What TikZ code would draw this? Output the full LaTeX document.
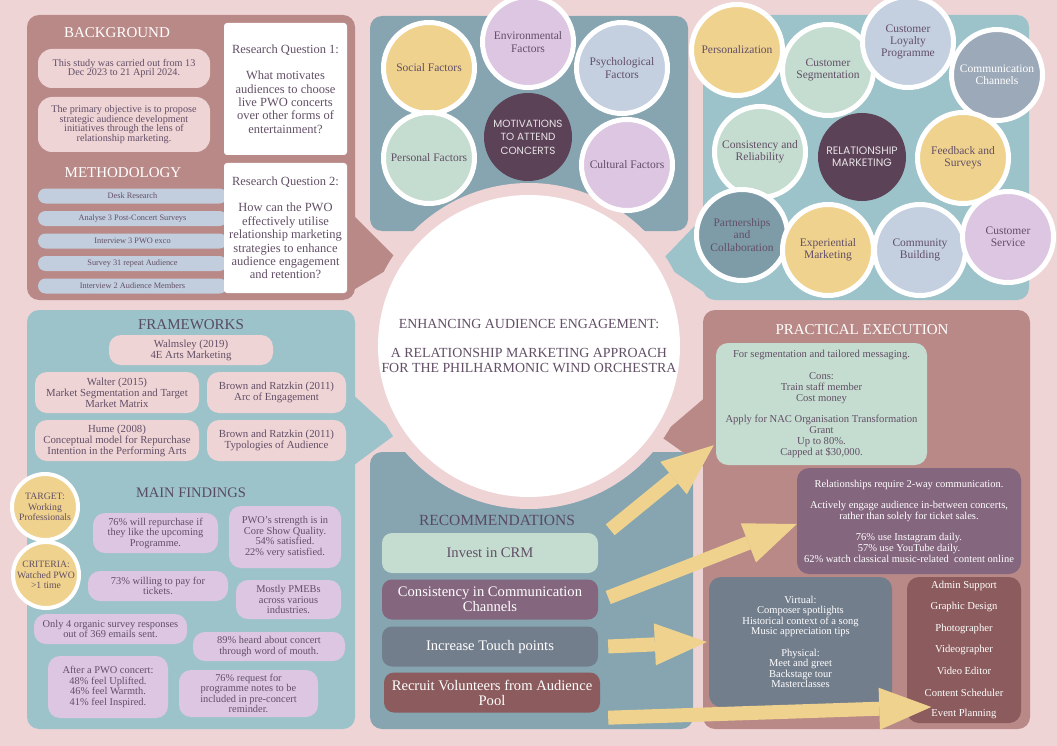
\documentclass[tikz,border=0pt]{standalone}
\usepackage{fontspec}
\setmainfont{Liberation Serif}
\newfontfamily\hubfont{Poppins}
\usetikzlibrary{matrix,arrows.meta}

\definecolor{bgpink}{HTML}{EFD4D6}
\definecolor{mauve}{HTML}{B98987}
\definecolor{tealL}{HTML}{9DC3CA}
\definecolor{tealD}{HTML}{86A5B0}
\definecolor{pillblue}{HTML}{C2CEDD}
\definecolor{sunny}{HTML}{EFD28E}
\definecolor{lilac}{HTML}{DCC6E2}
\definecolor{skyblue}{HTML}{C4D0E0}
\definecolor{mint}{HTML}{C5DCD0}
\definecolor{slateL}{HTML}{9CA9B9}
\definecolor{plum}{HTML}{5C4257}
\definecolor{steel}{HTML}{7E9CA8}
\definecolor{grape}{HTML}{84667E}
\definecolor{slateD}{HTML}{737E8D}
\definecolor{brick}{HTML}{8B5B5D}
\definecolor{inkc}{HTML}{624F66}
\definecolor{headc}{HTML}{584A63}

\begin{document}
\begin{tikzpicture}[x=1pt, y=-1pt, text=inkc,
    heading/.style={font=\fontsize{15}{16}\selectfont, text=white, inner sep=0pt},
    card/.style={rounded corners=12pt, align=center, inner sep=0pt, font=\fontsize{10.2}{9.8}\selectfont},
    qbox/.style={fill=white, rounded corners=3pt, align=center, inner sep=0pt, minimum width=123pt, font=\fontsize{12.5}{13.4}\selectfont},
    bubble/.style={circle, draw=white, line width=5pt, minimum size=91pt, inner sep=0pt, align=center, font=\fontsize{11.5}{12.4}\selectfont},
    core/.style={circle, fill=plum, minimum size=88pt, inner sep=0pt, align=center, text=white!85!plum, font=\hubfont\fontsize{10.4}{13.5}\selectfont},
    badge/.style={circle, fill=sunny, draw=white, line width=4pt, minimum size=66pt, inner sep=0pt, align=center, font=\fontsize{9.7}{10.5}\selectfont},
    refbox/.style={card, fill=bgpink, font=\fontsize{10.8}{11}\selectfont},
    fact/.style={card, fill=lilac, font=\fontsize{10.4}{10.5}\selectfont},
    btn/.style={card, rounded corners=10pt, minimum width=216pt, minimum height=40pt, font=\fontsize{14.6}{15}\selectfont},
    yarrow/.style={draw=sunny, line width=14pt, -{Triangle[length=52pt, width=42pt, line width=0pt]}}]

    \fill[bgpink, use as bounding box] (0,0) rectangle (1057,746);

    % panels
    \fill[mauve, rounded corners=12pt] (27,15) rectangle (355,300);
    \fill[mauve] (350,212) -- (400,262) -- (350,292) -- cycle;
    \fill[tealD, rounded corners=12pt] (370,16) rectangle (688,231);
    \fill[tealL, rounded corners=12pt] (703,15) rectangle (1029,300);
    \fill[tealL] (708,212) -- (660,262) -- (708,295) -- cycle;
    \fill[tealL, rounded corners=12pt] (27,310) rectangle (355,729);
    \fill[tealL] (350,392) -- (396,434) -- (350,468) -- cycle;
    \fill[tealD, rounded corners=12pt] (370,452) rectangle (693,729);
    \fill[mauve, rounded corners=12pt] (703,310) rectangle (1030,729);
    \fill[mauve] (708,395) -- (660,436) -- (708,470) -- cycle;

    \fill[bgpink] (529,346) circle (163);
    \node[circle, fill=white, minimum size=302pt] (hub) at (529,346) {};
    \node[align=center, font=\fontsize{13.9}{14.5}\selectfont] (title) at (hub) {ENHANCING AUDIENCE ENGAGEMENT:\\[15pt]A RELATIONSHIP MARKETING APPROACH\\FOR THE PHILHARMONIC WIND ORCHESTRA};

    % motivations
    \node[bubble, fill=sunny] (social) at (429,68) {Social Factors};
    \node[bubble, fill=lilac] (environ) at (528,42) {Environmental\\Factors};
    \node[bubble, fill=skyblue] (psycho) at (622,68) {Psychological\\Factors};
    \node[bubble, fill=mint] (personal) at (429,158) {Personal Factors};
    \node[bubble, fill=lilac] (cultural) at (627,165) {Cultural Factors};
    \node[core] (motiv) at (528,137) {MOTIVATIONS\\TO ATTEND\\CONCERTS};

    % relationship marketing
    \node[bubble, fill=sunny] (personalise) at (737,50) {Personalization};
    \node[bubble, fill=mint] (segment) at (828,70) {Customer\\Segmentation};
    \node[bubble, fill=skyblue] (loyalty) at (908,42) {Customer\\Loyalty\\Programme};
    \node[bubble, fill=slateL, text=white] (channels) at (997,75) {Communication\\Channels};
    \node[bubble, fill=mint] (reliable) at (760,152) {Consistency and\\Reliability};
    \node[core, font=\hubfont\fontsize{10.8}{12.3}\selectfont] (relmkt) at (862,157) {RELATIONSHIP\\MARKETING};
    \node[bubble, fill=sunny] (feedback) at (963,158) {Feedback and\\Surveys};
    \node[bubble, fill=steel] (partner) at (742,235) {Partnerships\\and\\Collaboration};
    \node[bubble, fill=sunny] (experience) at (828,250) {Experiential\\Marketing};
    \node[bubble, fill=skyblue] (community) at (920,250) {Community\\Building};
    \node[bubble, fill=lilac] (service) at (1008,237) {Customer\\Service};

    % background and methodology
    \node[heading] (bgtitle) at (117,33) {BACKGROUND};
    \node[card, fill=bgpink, minimum width=172pt, minimum height=39pt, rounded corners=14pt] (study) at (124,68.5) {This study was carried out from 13\\Dec 2023 to 21 April 2024.};
    \node[card, fill=bgpink, minimum width=172pt, minimum height=55pt, rounded corners=14pt] (aim) at (124,124.5) {The primary objective is to propose\\strategic audience development\\initiatives through the lens of\\relationship marketing.};
    \node[heading] (mtitle) at (123,173) {METHODOLOGY};
    \matrix[matrix of nodes, row sep=7.5pt, inner sep=0pt,
        nodes={fill=pillblue, rounded corners=7.5pt, minimum width=189pt, minimum height=15pt, inner sep=0pt, font=\fontsize{8.3}{9}\selectfont}] (method) at (132.5,241) {
    Desk Research \\
    Analyse 3 Post-Concert Surveys \\
    Interview 3 PWO exco \\
    Survey 31 repeat Audience \\
    Interview 2 Audience Members \\};
    \node[qbox, minimum height=132pt] (rq1) at (285.5,89) {Research Question 1:\\[13pt]What motivates\\audiences to choose\\live PWO concerts\\over other forms of\\entertainment?};
    \node[qbox, minimum height=130pt] (rq2) at (285.5,228) {Research Question 2:\\[13pt]How can the PWO\\effectively utilise\\relationship marketing\\strategies to enhance\\audience engagement\\and retention?};

    % frameworks
    \node[heading, text=headc] (fwtitle) at (191,325) {FRAMEWORKS};
    \node[refbox, minimum width=164pt, minimum height=30pt] (walmsley) at (191,350) {Walmsley (2019)\\4E Arts Marketing};
    \node[refbox, minimum width=164pt, minimum height=41pt] (walter) at (117,392.5) {Walter (2015)\\Market Segmentation and Target\\Market Matrix};
    \node[refbox, minimum width=139pt, minimum height=41pt] (arc) at (276.5,392.5) {Brown and Ratzkin (2011)\\Arc of Engagement};
    \node[refbox, minimum width=164pt, minimum height=41pt] (hume) at (117,440.5) {Hume (2008)\\Conceptual model for Repurchase\\Intention in the Performing Arts};
    \node[refbox, minimum width=139pt, minimum height=41pt] (typology) at (276.5,440.5) {Brown and Ratzkin (2011)\\Typologies of Audience};

    % main findings
    \node[heading, text=headc, font=\fontsize{14.5}{15}\selectfont] (mftitle) at (191,493) {MAIN FINDINGS};
    \node[badge] (target) at (45,507) {TARGET:\\Working\\Professionals};
    \node[badge] (criteria) at (46,575) {CRITERIA:\\Watched PWO\\>1 time};
    \node[fact, minimum width=125pt, minimum height=40pt] (repurchase) at (155.5,533) {76\% will repurchase if\\they like the upcoming\\Programme.};
    \node[fact, minimum width=112pt, minimum height=62pt] (quality) at (285,537) {PWO’s strength is in\\Core Show Quality.\\54\% satisfied.\\22\% very satisfied.};
    \node[fact, minimum width=140pt, minimum height=30pt] (pay) at (158,586) {73\% willing to pay for\\tickets.};
    \node[fact, minimum width=105pt, minimum height=39pt] (pmeb) at (288.5,599.5) {Mostly PMEBs\\across various\\industries.};
    \node[fact, minimum width=153pt, minimum height=30pt] (organic) at (110.5,629) {Only 4 organic survey responses\\out of 369 emails sent.};
    \node[fact, minimum width=152pt, minimum height=29pt] (mouth) at (269,646.5) {89\% heard about concert\\through word of mouth.};
    \node[fact, minimum width=120pt, minimum height=62pt] (feel) at (108,687) {After a PWO concert:\\48\% feel Uplifted.\\46\% feel Warmth.\\41\% feel Inspired.};
    \node[fact, minimum width=139pt, minimum height=47pt] (notes) at (248.5,693.5) {76\% request for\\programme notes to be\\included in pre-concert\\reminder.};

    % recommendations
    \node[heading, text=headc, font=\fontsize{15.5}{16}\selectfont] (rctitle) at (497,520) {RECOMMENDATIONS};
    \node[btn, fill=mint] (crm) at (490,553) {Invest in CRM};
    \node[btn, fill=grape, text=white] (consist) at (490,599.5) {Consistency in Communication\\Channels};
    \node[btn, fill=slateD, text=white] (touch) at (490,646.5) {Increase Touch points};
    \node[btn, fill=brick, text=white] (recruit) at (492,692.5) {Recruit Volunteers from Audience\\Pool};

    % practical execution
    \node[heading] (pxtitle) at (862,330) {PRACTICAL EXECUTION};
    \node[card, fill=mint, minimum width=211pt, minimum height=122pt, font=\fontsize{10.6}{10.8}\selectfont] (grant) at (821.5,404) {For segmentation and tailored messaging.\\[10.8pt]Cons:\\Train staff member\\Cost money\\[10.8pt]Apply for NAC Organisation Transformation\\Grant\\Up to 80\%.\\Capped at \$30,000.};
    \node[card, fill=grape, text=white, minimum width=224pt, minimum height=106pt, font=\fontsize{10.5}{10.7}\selectfont] (rel) at (909,521) {Relationships require 2-way communication.\\[10.7pt]Actively engage audience in-between concerts,\\rather than solely for ticket sales.\\[10.7pt]76\% use Instagram daily.\\57\% use YouTube daily.\\62\% watch classical music-related\ \ content online};
    \node[card, fill=slateD, text=white, minimum width=183pt, minimum height=130pt, font=\fontsize{10.5}{10.6}\selectfont] (virt) at (800.5,642) {Virtual:\\Composer spotlights\\Historical context of a song\\Music appreciation tips\\[10.6pt]Physical:\\Meet and greet\\Backstage tour\\Masterclasses};
    \node[card, fill=brick, minimum width=114pt, minimum height=146pt] (volbox) at (964,650) {};
    \matrix[matrix of nodes, row sep=0pt, inner sep=0pt,
        nodes={minimum height=21.33pt, inner sep=0pt, text=white, font=\fontsize{10.6}{11}\selectfont}] (vol) at (964,650) {
    Admin Support \\
    Graphic Design \\
    Photographer \\
    Videographer \\
    Video Editor \\
    Content Scheduler \\
    Event Planning \\};

    \draw[yarrow] ([shift={(12pt,3pt)}]crm.north east) -- ([shift={(-2pt,20pt)}]grant.south west);
    \draw[yarrow] ([shift={(10pt,2pt)}]consist.east) -- ([yshift=-3pt]rel.west);
    \draw[yarrow] ([xshift=10pt]touch.east) -- ([xshift=-2pt]virt.west);
    \draw[yarrow] ([shift={(8pt,-5pt)}]recruit.south east) -- ([yshift=7pt]vol-7-1.west);
    %
\end{tikzpicture}
\end{document}
